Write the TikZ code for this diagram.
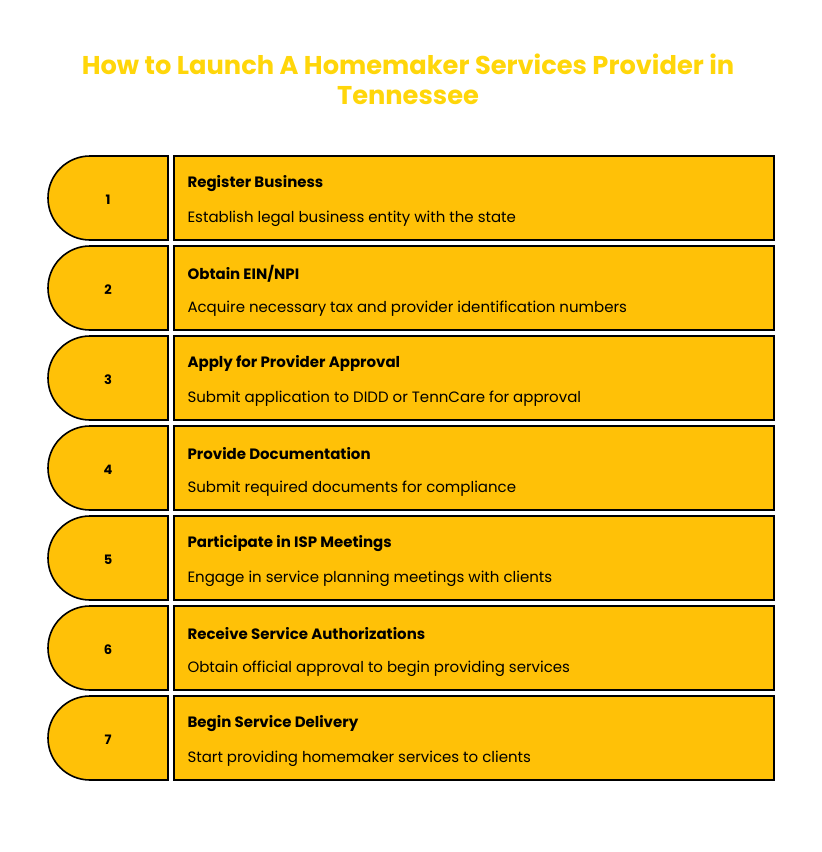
\documentclass[tikz,border=0pt]{standalone}
\usepackage{fontspec}
\setmainfont{Poppins}
\definecolor{amber}{HTML}{FFC107}
\definecolor{titley}{HTML}{FFD60A}
\begin{document}
\begin{tikzpicture}[x=1pt,y=-1pt,
  numbox/.style={draw=black,line width=1.6pt,fill=amber},
  txtbox/.style={draw=black,line width=1.6pt,fill=amber},
  numtxt/.style={font=\fontsize{13}{15}\selectfont\bfseries},
  headtxt/.style={anchor=west,font=\fontsize{15}{17}\selectfont\bfseries},
  desctxt/.style={anchor=west,font=\fontsize{15}{17}\selectfont}]
\useasboundingbox (0,0) rectangle (822,852);
\node[text=titley,font=\fontsize{25.7}{30}\selectfont\bfseries,align=center] (title) at (408,79) {How to Launch A Homemaker Services Provider in\\Tennessee};
\foreach \i/\h/\d in {1/Register Business/Establish legal business entity with the state,
  2/Obtain EIN\slash NPI/Acquire necessary tax and provider identification numbers,
  3/Apply for Provider Approval/Submit application to DIDD or TennCare for approval,
  4/Provide Documentation/Submit required documents for compliance,
  5/Participate in ISP Meetings/Engage in service planning meetings with clients,
  6/Receive Service Authorizations/Obtain official approval to begin providing services,
  7/Begin Service Delivery/Start providing homemaker services to clients}{
  \pgfmathsetmacro{\t}{156+(\i-1)*90}
  \draw[numbox] (168,\t) -- (90,\t) arc[start angle=270,end angle=90,radius=42] -- (168,\t+84) -- cycle;
  \draw[txtbox] (174,\t) rectangle (774,\t+84);
  \node[numtxt] (n\i) at (108,\t+43.5) {\i};
  \node[headtxt] (h\i) at (184,\t+27.5) {\h};
  \node[desctxt] (d\i) at (184,\t+62.5) {\d};
}
\end{tikzpicture}
\end{document}
